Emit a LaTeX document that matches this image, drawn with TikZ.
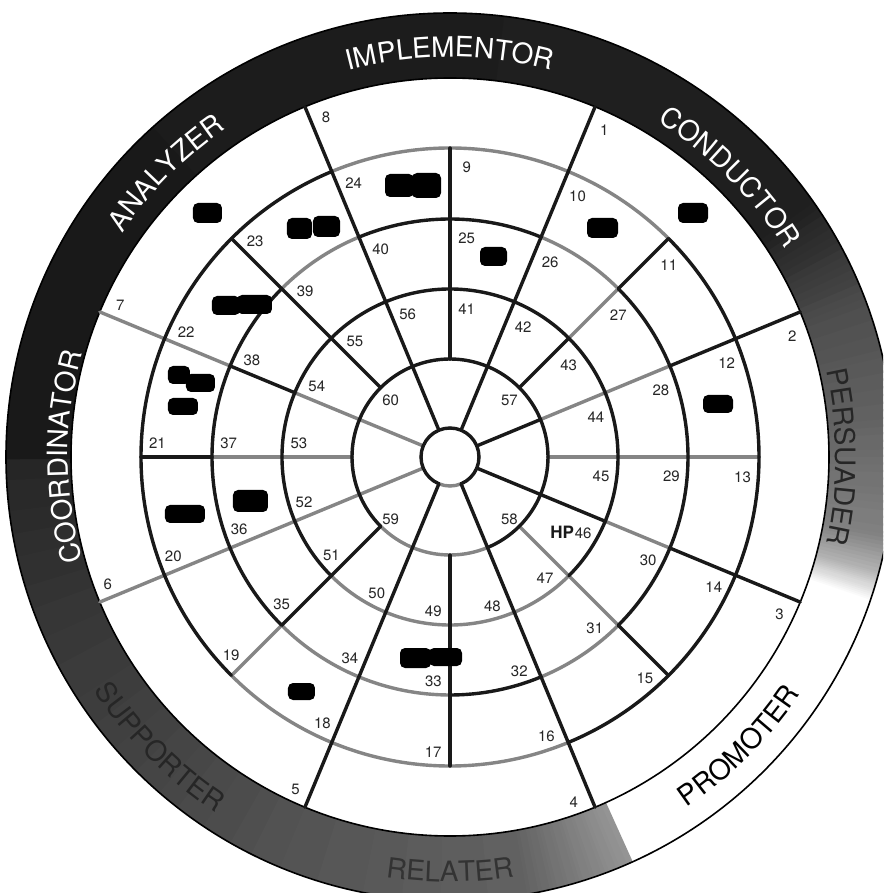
\documentclass[tikz,border=0pt]{standalone}
\usepackage{fontspec}
\setmainfont{TeX Gyre Heros}
\usetikzlibrary{decorations.text}

\newcommand\bandfont{\fontsize{28}{28}\selectfont}

% grid of rings and spokes; colours per segment (K = black, G = grey)
\newcommand\wheelgrid{%
  \foreach \rad/\cl in {29pt/{K,K,K,K,K,K,K,K,K,K,K,G,G,K,K,K},
                        98pt/{K,K,K,K,K,K,K,K,K,K,G,G,G,K,K,K},
                        168pt/{K,K,K,K,K,K,K,K,K,K,G,G,G,G,K,K},
                        238pt/{K,K,G,K,K,G,K,K,K,K,G,G,K,G,K,K},
                        309pt/{K,K,G,G,G,K,K,K,K,K,G,G,G,K,K,K}}{%
    \foreach \segc [count=\idx from 0] in \cl {%
      \pgfmathsetmacro\angA{\idx*22.5}%
      \pgfmathsetmacro\angB{\idx*22.5+22.5}%
      \draw[seg\segc] (\angA:\rad) arc[start angle=\angA, end angle=\angB, radius=\rad];
    }%
  }%
  \foreach \ang/\sA/\sB/\sC/\sD/\sE in {67.5/K/K/K/K/K, 22.5/K/G/G/K/K, -22.5/K/K/G/K/K,
      -67.5/K/K/K/K/K, -112.5/K/K/K/K/K, -157.5/G/G/G/G/G, 157.5/G/G/K/G/G, 112.5/K/K/K/K/K}{%
    \draw[seg\sA] (\ang:29pt) -- (\ang:98pt);
    \draw[seg\sB] (\ang:98pt) -- (\ang:168pt);
    \draw[seg\sC] (\ang:168pt) -- (\ang:238pt);
    \draw[seg\sD] (\ang:238pt) -- (\ang:309pt);
    \draw[seg\sE] (\ang:309pt) -- (\ang:379pt);
  }%
  \foreach \ang/\sB/\sC/\sD in {90/K/K/K, 45/K/G/K, 0/G/G/G, -45/G/G/K,
      -90/K/K/K, -135/K/K/G, 180/G/G/K, 135/K/K/K}{%
    \draw[seg\sB] (\ang:98pt) -- (\ang:168pt);
    \draw[seg\sC] (\ang:168pt) -- (\ang:238pt);
    \draw[seg\sD] (\ang:238pt) -- (\ang:309pt);
  }%
}

\begin{document}
\begin{tikzpicture}[
  kline/.style={line width=3.4pt, draw=black!90, line cap=round},
  gline/.style={line width=3.4pt, draw=black!48, line cap=round},
  numlbl/.style={font=\fontsize{15}{15}\selectfont, text=black!85, inner sep=0pt, yshift=-3pt},
  blob/.style={fill=black, rounded corners=5pt},
  thinring/.style={line width=1.6pt, draw=black}
]
\useasboundingbox (-450pt,-436pt) rectangle (433pt,457pt);
\clip (-450pt,-436pt) rectangle (433pt,457pt);
\fill[white] (-450pt,-436pt) rectangle (433pt,457pt);

% ---- outer band with shading: start/end angle, start/end percent black, steps ----
\foreach \wa/\wb/\wp/\wq/\wn in {-180/-160/86/80/20, -160/-135/80/74/25, -135/-112.5/74/68/22,
    -112.5/-80/68/62/32, -80/-66/62/42/28, -19/-15/0/30/16, -15/-10/30/50/10, -10/5/50/62/15,
    5/20/62/70/15, 20/35/70/88/15, 35/180/88/91/145}{%
  \pgfmathsetmacro\wstep{((\wb)-(\wa))/(\wn)}%
  \pgfmathsetmacro\pstep{((\wq)-(\wp))/(\wn)}%
  \foreach \i in {1,...,\wn}{%
    \pgfmathsetmacro\ta{(\wa)+\wstep*(\i-1)}%
    \pgfmathsetmacro\tb{(\wa)+\wstep*\i+0.3}%
    \pgfmathtruncatemacro\pp{(\wp)+\pstep*(\i-0.5)}%
    \fill[black!\pp] (\ta:379pt) arc[start angle=\ta, end angle=\tb, radius=379pt]
      -- (\tb:444pt) arc[start angle=\tb, end angle=\ta, radius=444pt] -- cycle;
  }%
}
\draw[thinring] (0,0) circle[radius=379pt];
\draw[thinring] (0,0) circle[radius=444pt];

% ---- band labels ----
\path[decorate, decoration={text along path, text={|\bandfont|IMPLEMENTOR}, text align=center, text color=white}]
  (130:400pt) arc[start angle=130, end angle=50, radius=400pt];
\path[decorate, decoration={text along path, text={|\bandfont|CONDUCTOR}, text align=center, text color=white}]
  (85:394pt) arc[start angle=85, end angle=5, radius=394pt];
\path[decorate, decoration={text along path, text={|\bandfont|PERSUADER}, text align=center, text color=black!85}]
  (40:386pt) arc[start angle=40, end angle=-40, radius=386pt];
\path[decorate, decoration={text along path, text={|\bandfont|ANALYZER}, text align=center, text color=white}]
  (175:397pt) arc[start angle=175, end angle=95, radius=397pt];
\path[decorate, decoration={text along path, text={|\bandfont|COORDINATOR}, text align=center, text color=white}]
  (220:382pt) arc[start angle=220, end angle=140, radius=382pt];
\path[decorate, decoration={text along path, text={|\bandfont|PROMOTER}, text align=center, text color=black}]
  (-85:423pt) arc[start angle=-85, end angle=-5, radius=423pt];
\path[decorate, decoration={text along path, text={|\bandfont|RELATER}, text align=center, text color=black!80}]
  (-130:425pt) arc[start angle=-130, end angle=-50, radius=425pt];
\path[decorate, decoration={text along path, text={|\bandfont|SUPPORTER}, text align=center, text color=black!85}]
  (-175:426pt) arc[start angle=-175, end angle=-95, radius=426pt];

% ---- grid: grey pass, then black pass ----
\begin{scope}[segK/.style={draw=none}, segG/.style={gline}]
  \wheelgrid
\end{scope}
\begin{scope}[segK/.style={kline}, segG/.style={draw=none}]
  \wheelgrid
\end{scope}

% ---- numbers ----
\foreach \k in {1,...,8}{%
  \pgfmathsetmacro\ang{67.5-45*(\k-1)-2.6}%
  \node[numlbl] (n\k) at (\ang:364pt) {\k};
}
\foreach \k in {9,...,24}{%
  \pgfmathsetmacro\ang{90-22.5*(\k-9)-3.3}%
  \node[numlbl] (n\k) at (\ang:293pt) {\k};
}
\foreach \k in {25,...,40}{%
  \pgfmathsetmacro\ang{90-22.5*(\k-25)-4.3}%
  \node[numlbl] (n\k) at (\ang:222pt) {\k};
}
\foreach \k in {41,...,56}{%
  \pgfmathsetmacro\ang{90-22.5*(\k-41)-6.3}%
  \node[numlbl] (n\k) at (\ang:152pt) {\k};
}
\node[anchor=base east, font=\bfseries\fontsize{17}{17}\selectfont, inner sep=0pt, text=black!90]
  (hp) at ([xshift=-0.5pt]n46.base west) {HP};
\node[numlbl] (n57) at (45:84pt) {57};
\node[numlbl] (n58) at (-45:84pt) {58};
\node[numlbl] (n59) at (-135:84pt) {59};
\node[numlbl] (n60) at (135:84pt) {60};

% ---- redaction blobs (image coordinates) ----
\begin{scope}[shift={(-450pt,457pt)}, yscale=-1]
  \fill[blob] (193pt,203pt) rectangle (222pt,223pt);
  \fill[blob] (287pt,218pt) rectangle (312pt,239pt);
  \fill[blob] (313pt,216pt) rectangle (340pt,237pt);
  \fill[blob] (385pt,174pt) rectangle (414pt,197pt);
  \fill[blob] (412pt,173pt) rectangle (441pt,198pt);
  \fill[blob] (212pt,296pt) rectangle (240pt,315pt);
  \fill[blob] (237pt,295pt) rectangle (272pt,314pt);
  \fill[blob] (168pt,366pt) rectangle (190pt,384pt);
  \fill[blob] (186pt,374pt) rectangle (215pt,392pt);
  \fill[blob] (168pt,398pt) rectangle (198pt,415pt);
  \fill[blob] (587pt,218pt) rectangle (618pt,238pt);
  \fill[blob] (678pt,203pt) rectangle (708pt,223pt);
  \fill[blob] (480pt,247pt) rectangle (507pt,266pt);
  \fill[blob] (703pt,395pt) rectangle (733pt,413pt);
  \fill[blob] (165pt,505pt) rectangle (205pt,523pt);
  \fill[blob] (233pt,490pt) rectangle (268pt,512pt);
  \fill[blob] (288pt,683pt) rectangle (315pt,700pt);
  \fill[blob] (400pt,648pt) rectangle (431pt,668pt);
  \fill[blob] (429pt,648pt) rectangle (462pt,666pt);
\end{scope}
\end{tikzpicture}
\end{document}
